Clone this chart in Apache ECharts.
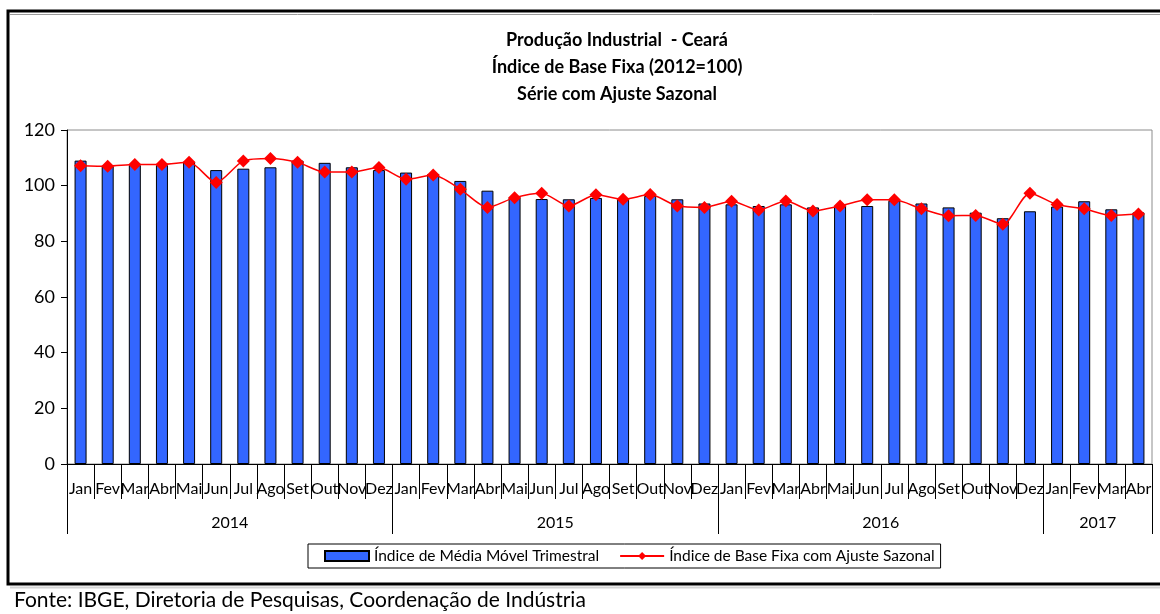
<!DOCTYPE html>
<html>
<head>
<meta charset="utf-8">
<script src="https://cdn.jsdelivr.net/npm/echarts@6/dist/echarts.min.js"></script>
<style>
  html, body { margin: 0; padding: 0; background: #fff; }
  #chart { width: 1160px; height: 614px; }
</style>
</head>
<body>
<div id="chart"></div>
<script>
const FONT = 'Lato, "Open Sans", sans-serif';

// meses (Jan/2014 - Abr/2017)
const months = [
    'Jan', 'Fev', 'Mar', 'Abr', 'Mai', 'Jun', 'Jul', 'Ago', 'Set', 'Out', 'Nov', 'Dez',
    'Jan', 'Fev', 'Mar', 'Abr', 'Mai', 'Jun', 'Jul', 'Ago', 'Set', 'Out', 'Nov', 'Dez',
    'Jan', 'Fev', 'Mar', 'Abr', 'Mai', 'Jun', 'Jul', 'Ago', 'Set', 'Out', 'Nov', 'Dez',
    'Jan', 'Fev', 'Mar', 'Abr'
];
const years = ['2014', '2015', '2016', '2017'];
const yearCenters = [6, 18, 30, 38];      // meio de cada ano, em meses
const yearBounds = [0, 12, 24, 36, 40];   // divisões entre anos

// Índice de Média Móvel Trimestral (barras)
const mediaMovel = [
    109.0, 106.9, 107.4, 107.4, 108.6, 105.6, 106.1, 106.6, 109.0, 108.2, 106.6, 105.6,
    104.7, 104.2, 101.7, 98.2, 95.8, 95.2, 95.1, 95.6, 95.1, 96.3, 95.1, 93.6,
    93.3, 92.7, 93.3, 92.2, 92.7, 92.7, 94.6, 93.6, 92.2, 90.3, 88.3, 90.8,
    92.5, 94.4, 91.5, 90.4
];
// Índice de Base Fixa com Ajuste Sazonal (linha)
const ajusteSazonal = [
    107.2, 107.0, 107.6, 107.6, 108.4, 101.1, 108.9, 109.8, 108.4, 104.9, 104.9, 106.5,
    102.3, 103.8, 98.7, 92.2, 95.7, 97.3, 92.7, 96.7, 95.1, 96.8, 92.7, 92.2,
    94.4, 91.3, 94.5, 90.9, 92.7, 94.9, 94.9, 91.7, 89.2, 89.3, 86.1, 97.3,
    93.2, 91.7, 89.3, 89.8
];

let myChart = echarts.init(document.getElementById('chart'));

let option = {
    backgroundColor: '#fff',
    animation: false,
    textStyle: {fontFamily: FONT, color: '#000'},
    title: {
        text: 'Produção Industrial  - Ceará\nÍndice de Base Fixa (2012=100)\nSérie com Ajuste Sazonal',
        left: 612,
        textAlign: 'center',
        top: 22,
        textStyle: {fontFamily: FONT, fontSize: 18, fontWeight: 'bold', color: '#000', lineHeight: 27}
    },
    legend: {
        left: 308,
        top: 544,
        padding: [4, 6, 4, 16],
        itemGap: 20,
        itemWidth: 44,
        itemHeight: 10,
        borderColor: '#000',
        borderWidth: 1,
        borderRadius: 0,
        textStyle: {fontFamily: FONT, fontSize: 15.5, color: '#000'},
        data: [
            {name: 'Índice de Média Móvel Trimestral', icon: 'rect'},
            {name: 'Índice de Base Fixa com Ajuste Sazonal'}
        ]
    },
    grid: {
        left: 67,
        right: 8,
        top: 130,
        bottom: 150,
        show: true,
        borderColor: '#8c8c8c',
        borderWidth: 1
    },
    xAxis: [
        {
            type: 'category',
            data: months,
            boundaryGap: true,
            axisLine: {lineStyle: {color: '#000', width: 1}},
            axisTick: {show: true, interval: 0, length: 35, lineStyle: {color: '#000'}},
            axisLabel: {interval: 0, margin: 17, fontSize: 16, color: '#000', fontFamily: FONT}
        },
        {
            type: 'value',
            position: 'bottom',
            min: 0,
            max: 40,
            splitLine: {show: false},
            axisLine: {show: false},
            axisTick: {show: true, length: 70, customValues: yearBounds, lineStyle: {color: '#000'}},
            axisLabel: {
                customValues: yearCenters,
                margin: 51,
                fontSize: 16,
                color: '#000',
                fontFamily: FONT,
                formatter: function (v) {
                    return years[yearCenters.indexOf(v)] || '';
                }
            }
        }
    ],
    yAxis: {
        type: 'value',
        min: 0,
        max: 120,
        interval: 20,
        splitLine: {show: false},
        axisLine: {show: true, lineStyle: {color: '#000'}},
        axisTick: {show: true, length: 6, lineStyle: {color: '#000'}},
        axisLabel: {fontSize: 18, margin: 12, color: '#000', fontFamily: FONT}
    },
    series: [
        {
            name: 'Índice de Média Móvel Trimestral',
            type: 'bar',
            xAxisIndex: 0,
            barWidth: 12,
            itemStyle: {color: '#3366ff', borderColor: '#000', borderWidth: 1},
            data: mediaMovel
        },
        {
            name: 'Índice de Base Fixa com Ajuste Sazonal',
            type: 'line',
            xAxisIndex: 0,
            smooth: 0.25,
            symbol: 'diamond',
            symbolSize: 13,
            lineStyle: {color: '#ff0000', width: 1.5},
            itemStyle: {color: '#ff0000'},
            data: ajusteSazonal
        }
    ],
    graphic: [
        {
            type: 'rect',
            shape: {x: 8, y: 11, width: 1170, height: 573},
            style: {fill: null, stroke: '#000', lineWidth: 3},
            silent: true
        },
        {
            type: 'line',
            shape: {x1: 10, y1: 14.5, x2: 1160, y2: 14.5},
            style: {stroke: '#9a9a9a', lineWidth: 1},
            silent: true
        },
        {
            type: 'line',
            shape: {x1: 10, y1: 587.5, x2: 1160, y2: 587.5},
            style: {stroke: '#d4d4d4', lineWidth: 2},
            silent: true
        },
        {
            type: 'text',
            left: 14,
            top: 590,
            style: {text: 'Fonte: IBGE, Diretoria de Pesquisas, Coordenação de Indústria', fontSize: 21, fontFamily: FONT, fill: '#000'},
            silent: true
        }
    ]
};

myChart.setOption(option);
</script>
</body>
</html>
